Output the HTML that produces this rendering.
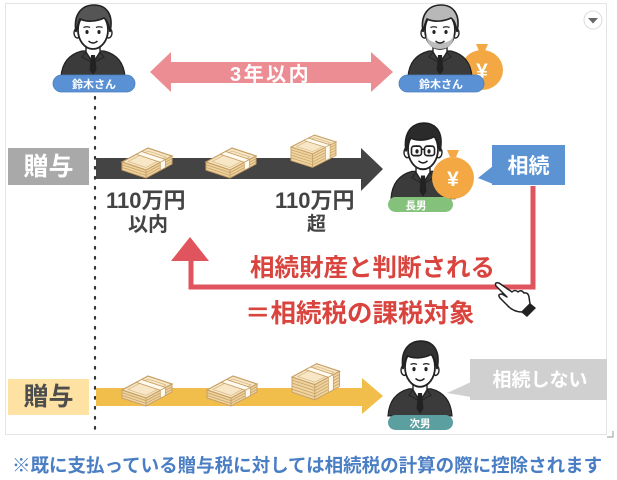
<!DOCTYPE html>
<html><head><meta charset="utf-8">
<style>
html,body{margin:0;padding:0;background:#fff;}
svg{display:block;}
text{font-family:"Liberation Sans","Noto Sans CJK JP",sans-serif;font-weight:bold;}
</style></head>
<body>
<svg width="617" height="480" viewBox="0 0 617 480" xmlns="http://www.w3.org/2000/svg">
<defs>
  <g id="stack">
    <path d="M0,28 L24,36 L50,22 L50,14 L24,28 L0,20 Z" fill="#f0d49f" stroke="#c6a066" stroke-width="1"/>
    <path d="M0,22.7 L24,30.7 L50,16.7 M0,25.4 L24,33.4 L50,19.4" fill="none" stroke="#c9a56c" stroke-width="0.9"/>
    <path d="M24,28 L24,36" stroke="#c6a066" stroke-width="1"/>
    <path d="M0,20 L26,6 L50,14 L24,28 Z" fill="#f8e7c6" stroke="#c6a066" stroke-width="1.2"/>
    <path d="M6,19.5 L26,9 L44,15 L24,25.5 Z" fill="none" stroke="#d9bb86" stroke-width="0.8"/>
    <path d="M14.3,12.3 L19.5,9.5 L43.5,17.5 L38.3,20.3 Z" fill="#fffaf0" stroke="#c6a066" stroke-width="0.9"/>
    <path d="M38.3,20.3 L43.5,17.5 L43.5,25.5 L38.3,28.3 Z" fill="#fffaf0" stroke="#c6a066" stroke-width="0.8"/>
  </g>
  <g id="tallstack">
    <path d="M0,36 L24,44 L50,30 L50,14 L24,28 L0,20 Z" fill="#f0d49f" stroke="#c6a066" stroke-width="1"/>
    <path d="M0,23.2 L24,31.2 L50,17.2 M0,26.4 L24,34.4 L50,20.4 M0,29.6 L24,37.6 L50,23.6 M0,32.8 L24,40.8 L50,26.8" fill="none" stroke="#c9a56c" stroke-width="0.9"/>
    <path d="M24,28 L24,44" stroke="#c6a066" stroke-width="1"/>
    <path d="M0,20 L26,6 L50,14 L24,28 Z" fill="#f8e7c6" stroke="#c6a066" stroke-width="1.2"/>
    <path d="M6,19.5 L26,9 L44,15 L24,25.5 Z" fill="none" stroke="#d9bb86" stroke-width="0.8"/>
    <path d="M14.3,12.3 L19.5,9.5 L43.5,17.5 L38.3,20.3 Z" fill="#fffaf0" stroke="#c6a066" stroke-width="0.9"/>
    <path d="M38.3,20.3 L43.5,17.5 L43.5,33.5 L38.3,36.3 Z" fill="#fffaf0" stroke="#c6a066" stroke-width="0.8"/>
  </g>
  <g id="body">
    <path d="M3,73 C4,58 12,50 24,47 L46,47 C58,50 66,58 67,73 Z" fill="#3b3b3b" stroke="#222" stroke-width="1.2"/>
    <path d="M28,38 L28,48 L35,59 L42,48 L42,38 Z" fill="#fff" stroke="#222" stroke-width="1.4"/>
    <path d="M33,51 L37,51 L38.5,66 L35,71 L31.5,66 Z" fill="#222"/>
    <path d="M28,48 L24,53 L33,58 M42,48 L46,53 L37,58" fill="none" stroke="#222" stroke-width="1"/>
    <ellipse cx="19.5" cy="29" rx="3.5" ry="5" fill="#fff" stroke="#222" stroke-width="1.4"/>
    <ellipse cx="50.5" cy="29" rx="3.5" ry="5" fill="#fff" stroke="#222" stroke-width="1.4"/>
    <ellipse cx="35" cy="26" rx="15" ry="19" fill="#fff" stroke="#222" stroke-width="1.8"/>
  </g>
  <g id="face">
    <ellipse cx="29" cy="28" rx="1.6" ry="2" fill="#222"/>
    <ellipse cx="41" cy="28" rx="1.6" ry="2" fill="#222"/>
    <path d="M25.5,23.5 Q29,22 32,23.5 M38,23.5 Q41,22 44.5,23.5" fill="none" stroke="#222" stroke-width="1.3"/>
    <path d="M30.5,37 Q35,41 39.5,37" fill="none" stroke="#222" stroke-width="1.4"/>
  </g>
</defs>

<!-- frame -->
<rect x="5.5" y="3.5" width="601" height="431" fill="none" stroke="#e4e4e4" stroke-width="1"/>
<path d="M613,431 L613,437 L607,437" fill="none" stroke="#999" stroke-width="1"/>
<circle cx="593" cy="20" r="9" fill="#fff" stroke="#dcdcdc" stroke-width="1"/>
<path d="M588,18 L598,18 L593,23.5 Z" fill="#666"/>

<!-- dotted line -->
<line x1="95" y1="97" x2="95" y2="433" stroke="#333" stroke-width="2.2" stroke-dasharray="1.6 8.4" stroke-linecap="round"/>

<!-- person 1 -->
<g transform="translate(58,4)">
  <use href="#body"/>
  <path d="M18,28 C15,10 24,1 36,1 C48,1 56,10 52,28 C51,20 49,16 46,14 C38,18 28,18 22,15 C20,19 19,23 18,28 Z" fill="#555" stroke="#222" stroke-width="1.6"/>
  <use href="#face"/>
</g>
<rect x="53" y="75" width="82" height="17" rx="8.5" fill="#5a91d4" stroke="#4a7fc0" stroke-width="0.8"/>
<text x="94" y="88" font-size="11" fill="#fff" text-anchor="middle">鈴木さん</text>

<!-- pink double arrow -->
<polygon points="150,72 171,52 171,62 371,62 371,52 393,72 371,92 371,83 171,83 171,92" fill="#ec8d94"/>
<text x="230" y="81" font-size="20" fill="#fff" letter-spacing="2.5">3年以内</text>

<!-- money bag person2 (behind pill) -->
<g>
  <path d="M476,44 L488,44 L485,51 L479,51 Z" fill="#f3a843"/>
  <ellipse cx="482" cy="70" rx="21" ry="20" fill="#f3a843"/>
  <text x="482" y="78" font-size="21" fill="#fff" text-anchor="middle">¥</text>
</g>
<!-- person 2 (old man) -->
<g transform="translate(405,4)">
  <use href="#body"/>
  <path d="M18,28 C15,10 24,1 36,1 C48,1 56,10 52,28 C51,20 49,16 46,14 C38,18 28,18 22,15 C20,19 19,23 18,28 Z" fill="#b8b8b8" stroke="#222" stroke-width="1.6"/>
  <path d="M21,31 Q22,45 35,45 Q48,45 49,31 Q46,39 35,39 Q24,39 21,31 Z" fill="#bcbcbc"/>
  <use href="#face"/>
</g>
<rect x="399" y="75" width="85" height="17" rx="8.5" fill="#5a91d4" stroke="#4a7fc0" stroke-width="0.8"/>
<text x="441" y="88" font-size="11" fill="#fff" text-anchor="middle">鈴木さん</text>

<!-- Row 1 -->
<rect x="8" y="148" width="81" height="37" fill="#a9a9a9"/>
<text x="48.5" y="175" font-size="25" fill="#fff" text-anchor="middle">贈与</text>
<polygon points="96,158 361,158 361,148 383,169 361,191 361,179 96,179" fill="#444"/>
<use href="#stack" transform="translate(122,142)"/>
<use href="#stack" transform="translate(206,142)"/>
<use href="#tallstack" transform="translate(291,130) scale(0.9,0.85)"/>

<text x="106" y="208" font-size="22" fill="#444">110万円</text>
<text x="128" y="231" font-size="20" fill="#444">以内</text>
<text x="275" y="208" font-size="22" fill="#444">110万円</text>
<text x="307" y="230" font-size="19" fill="#444">超</text>

<!-- person 3 (長男) -->
<g transform="translate(388,122) scale(1,1.05)">
  <use href="#body"/>
  <path d="M18,28 C15,10 24,1 36,1 C48,1 56,10 52,28 C51,20 49,16 46,14 C38,18 28,18 22,15 C20,19 19,23 18,28 Z" fill="#2b2b2b" stroke="#222" stroke-width="1.6"/>
  <use href="#face"/>
  <rect x="23.5" y="23" width="10" height="9" rx="2.5" fill="none" stroke="#222" stroke-width="1.6"/>
  <rect x="36.5" y="23" width="10" height="9" rx="2.5" fill="none" stroke="#222" stroke-width="1.6"/>
  <path d="M33.5,26 L36.5,26" stroke="#222" stroke-width="1.4"/>
</g>
<rect x="388" y="197" width="65" height="15" rx="7.5" fill="#84c27c"/>
<text x="416" y="209" font-size="10.5" fill="#fff" text-anchor="middle">長男</text>
<!-- bag person 3 -->
<g>
  <path d="M447,150 L459,150 L456,157 L450,157 Z" fill="#f3a843"/>
  <ellipse cx="453" cy="178" rx="21" ry="21" fill="#f3a843"/>
  <text x="453" y="186" font-size="21" fill="#fff" text-anchor="middle">¥</text>
</g>

<!-- 相続 box -->
<polygon points="493,166 478,178 493,184" fill="#5b93d3"/>
<rect x="492" y="145" width="73" height="40" fill="#5b93d3"/>
<text x="528.5" y="173" font-size="21" fill="#fff" text-anchor="middle">相続</text>

<!-- red path -->
<path d="M533,186 L533,287 L191,287 L191,258" fill="none" stroke="#e0555d" stroke-width="5"/>
<polygon points="190,237 171,261 209,261" fill="#e0555d"/>

<text x="250" y="276" font-size="24.5" fill="#d9443e">相続財産と判断される</text>
<text x="245" y="322" font-size="25.5" fill="#d9443e">＝相続税の課税対象</text>

<!-- hand cursor -->
<path d="M496,286 Q494,282 499,283 L512,292 Q515,289 518,292 Q521,289 524,293 Q528,292 529,297 L530,304 L522,312 Q513,312 507,305 L500,298 Q497,294 502,294 L507,297 Z" fill="#fff" stroke="#222" stroke-width="1.5" stroke-linejoin="round"/>
<polygon points="521,312 530,303 536,308 527,317" fill="#222"/>

<!-- Row 3 -->
<rect x="8" y="379" width="81" height="36" fill="#fde2a4"/>
<text x="48.5" y="405" font-size="25" fill="#4d4d4d" text-anchor="middle">贈与</text>
<polygon points="96,388 362,388 362,378 383,396 362,414 362,406 96,406" fill="#f2be4b"/>
<use href="#stack" transform="translate(122,370)"/>
<use href="#stack" transform="translate(207,370)"/>
<use href="#tallstack" transform="translate(292,358) scale(0.95,0.95)"/>

<!-- person 4 (次男) -->
<g transform="translate(385,340) scale(1,1.04)">
  <use href="#body"/>
  <path d="M18,28 C15,10 24,1 36,1 C48,1 56,10 52,28 C51,20 49,16 46,14 C38,18 28,18 22,15 C20,19 19,23 18,28 Z" fill="#333" stroke="#222" stroke-width="1.6"/>
  <use href="#face"/>
</g>
<rect x="388" y="415" width="65" height="15" rx="7.5" fill="#5c9fa1"/>
<text x="420" y="427" font-size="10.5" fill="#fff" text-anchor="middle">次男</text>

<!-- 相続しない box -->
<polygon points="471,382 447,393 471,397" fill="#d0d0d0"/>
<rect x="470" y="359" width="137" height="41" fill="#d0d0d0"/>
<text x="540" y="386" font-size="19" fill="#fff" text-anchor="middle">相続しない</text>

<!-- footer -->
<text x="12" y="472" font-size="18.5" fill="#4a7ec4">※既に支払っている贈与税に対しては相続税の計算の際に控除されます</text>
</svg>
</body></html>
